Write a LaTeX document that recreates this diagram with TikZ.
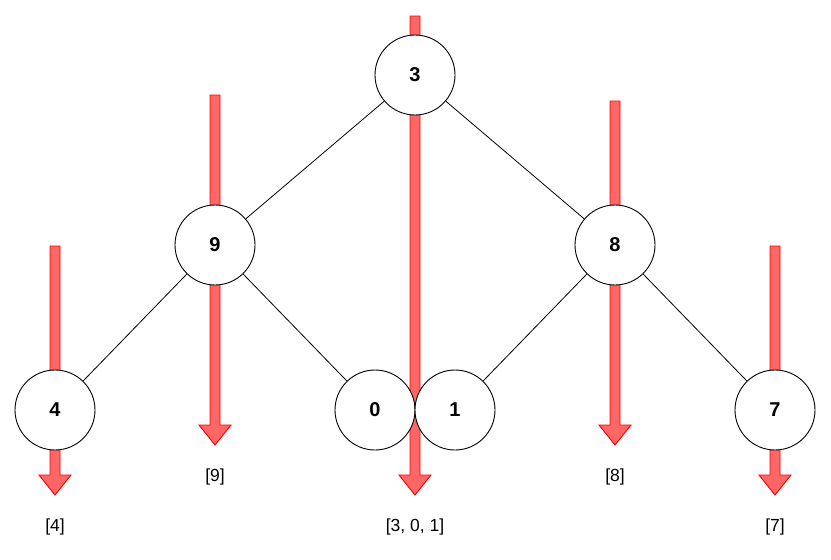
\documentclass[tikz,border=0pt]{standalone}
\usepackage{fontspec}
\setmainfont{Liberation Sans}
\usepackage{xcolor}
\usetikzlibrary{positioning}

\definecolor{arrowred}{HTML}{FF6666}

\begin{document}
\begin{tikzpicture}[x=1pt, y=-1pt,
    vertex/.style={circle, draw, fill=white, line width=0.9pt, minimum size=80pt, inner sep=0pt, font=\fontsize{20}{24}\selectfont\bfseries},
    result/.style={font=\fontsize{17.5}{21}\selectfont},
    edge/.style={line width=0.8pt},
    block/.style={draw=red, fill=arrowred, line width=0.9pt}]
    \useasboundingbox (0,0) rectangle (831,560);

    % Red arrows (drawn first, behind the tree)
    % Leaf 4
    \draw[block] (50,246) -- (60,246) -- (60,475) -- (71,475) -- (55,495) -- (39,475) -- (50,475) -- cycle;
    % Subtree 9
    \draw[block] (210,95) -- (220,95) -- (220,425) -- (231,425) -- (215,445) -- (199,425) -- (210,425) -- cycle;
    % Root 3 with 0 and 1
    \draw[block] (410,16) -- (420,16) -- (420,475) -- (431,475) -- (415,495) -- (399,475) -- (410,475) -- cycle;
    % Subtree 8
    \draw[block] (610,101) -- (620,101) -- (620,425) -- (631,425) -- (615,445) -- (599,425) -- (610,425) -- cycle;
    % Leaf 7
    \draw[block] (770,246) -- (780,246) -- (780,475) -- (791,475) -- (775,495) -- (759,475) -- (770,475) -- cycle;

    % Tree nodes
    \node[vertex] (n3) at (415,75) {3};
    \node[vertex] (n9) at (215,245) {9};
    \node[vertex] (n8) at (615,245) {8};
    \node[vertex] (n4) at (55,410) {4};
    \node[vertex] (n0) at (375,410) {0};
    \node[vertex] (n1) at (455,410) {1};
    \node[vertex] (n7) at (775,410) {7};

    % Edges
    \draw[edge] (n3) -- (n9);
    \draw[edge] (n3) -- (n8);
    \draw[edge] (n9) -- (n4);
    \draw[edge] (n9) -- (n0);
    \draw[edge] (n8) -- (n1);
    \draw[edge] (n8) -- (n7);

    % Results under the arrows
    \node[result] (out4) at (55,527) {[4]};
    \node[result] (out9) at (215,477) {[9]};
    \node[result] (out3) at (415,527) {[3, 0, 1]};
    \node[result] (out8) at (615,477) {[8]};
    \node[result] (out7) at (775,527) {[7]};
\end{tikzpicture}
\end{document}
